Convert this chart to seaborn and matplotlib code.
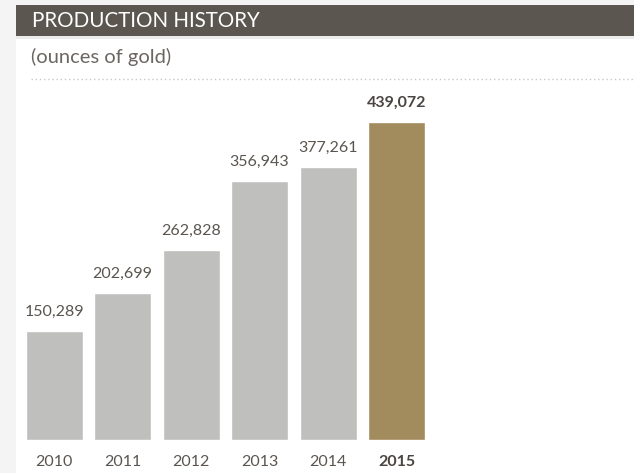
import matplotlib
matplotlib.use("Agg")
import matplotlib.pyplot as plt
import seaborn as sns
import pandas as pd
from matplotlib.patches import Rectangle
from matplotlib.lines import Line2D

years = ["2010", "2011", "2012", "2013", "2014", "2015"]
ounces = [150289, 202699, 262828, 356943, 377261, 439072]
bar_colors = ["#bfbfbe", "#bfbfbe", "#bfbfbe", "#bfbfbe", "#bfbfbe", "#a28b5c"]
title = "PRODUCTION HISTORY"
subtitle = "(ounces of gold)"

sns.set_theme(style="white")
plt.rcParams["font.family"] = ["Lato", "DejaVu Sans"]

W, H = 634, 473
fig = plt.figure(figsize=(W / 100, H / 100), dpi=100)
fig.patch.set_facecolor("white")


def px_rect(x0, y0, x1, y1, color, z=0):
    fig.add_artist(Rectangle((x0 / W, 1 - y1 / H), (x1 - x0) / W, (y1 - y0) / H,
                             transform=fig.transFigure, facecolor=color,
                             edgecolor="none", zorder=z))


# page background, header bar
px_rect(0, 0, 16, H, "#f4f4f4")
px_rect(0, 0, W, 5, "#f4f4f4")
px_rect(16, 36, W, 39, "#ececec")
px_rect(16, 5, W, 36, "#5c5650", 1)
fig.text(32 / W, 1 - 21 / H, title, color="white", fontsize=14.8,
         va="center", ha="left", zorder=2)
fig.text(31 / W, 1 - 57 / H, subtitle, color="#6b6661", fontsize=14.5,
         va="center", ha="left")
fig.add_artist(Line2D([31 / W, 1], [1 - 79 / H, 1 - 79 / H], transform=fig.transFigure,
                      color="#c8c8c8", linestyle=(0, (1, 2)), linewidth=1))

ax = fig.add_axes([16 / W, (H - 440) / H, 618 / W, 361 / H])
ax.set_facecolor("none")
df = pd.DataFrame({"year": years, "ounces": ounces})
sns.barplot(data=df, x="year", y="ounces", hue="year", palette=bar_colors,
            width=0.832, legend=False, ax=ax, saturation=1)
ax.set_xlim(-0.555, 8.467)
ax.set_ylim(0, 498180)
for s in ax.spines.values():
    s.set_visible(False)
ax.set_xlabel("")
ax.set_ylabel("")
ax.set_yticks([])
ax.set_xticks([])

for i, (y, v) in enumerate(zip(years, ounces)):
    last = i == len(years) - 1
    ax.annotate(f"{v:,}", (i, v), xytext=(0, 19), textcoords="offset pixels",
                ha="center", va="center", fontsize=11.5,
                color="#4a4541" if last else "#5a5550",
                fontweight="bold" if last else "normal")
    ax.annotate(y, (i, 0), xytext=(0, -22), textcoords="offset pixels",
                ha="center", va="center", fontsize=11.5,
                color="#4a4541" if last else "#5a5550",
                fontweight="bold" if last else "normal")

fig.savefig("out.png", dpi=100, facecolor=fig.get_facecolor())
